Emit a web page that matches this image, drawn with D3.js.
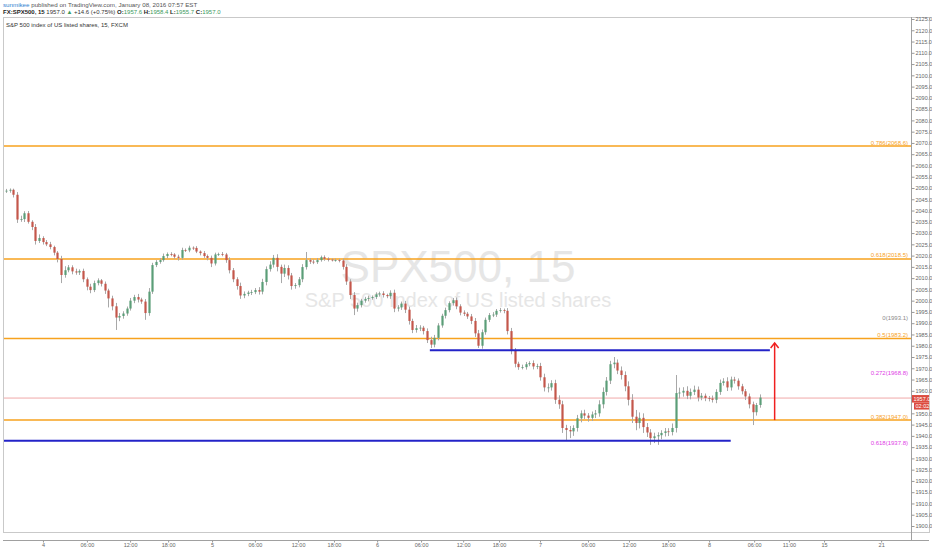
<!DOCTYPE html>
<html>
<head>
<meta charset="utf-8">
<script src="https://cdn.jsdelivr.net/npm/d3@7"></script>
<style>
  body { margin: 0; background: #fff; }
  svg { display: block; font-family: "Liberation Sans", Arial, sans-serif; }
</style>
</head>
<body>
<div id="chart"></div>
<script>
// 30-minute candles (close of each bar)
const firstOpen = 2048.5;
const closes = [
  2048.8, 2049.2, 2047.0, 2036.0, 2036.2, 2038.8, 2035.0, 2032.7, 2026.5, 2027.8,
  2026.0, 2025.0, 2023.8, 2021.3, 2018.5, 2011.4, 2013.5, 2014.8, 2013.0, 2012.5,
  2013.2, 2009.5, 2006.2, 2004.7, 2007.8, 2009.0, 2007.5, 2004.5, 2001.0, 1997.5,
  1992.5, 1993.2, 1994.3, 1996.5, 2000.0, 2001.6, 2000.5, 1999.6, 1994.5, 2004.0,
  2015.8, 2017.2, 2018.0, 2019.8, 2020.7, 2020.5, 2019.5, 2019.0, 2022.5, 2022.3,
  2023.5, 2023.4, 2021.8, 2021.1, 2019.8, 2019.0, 2016.5, 2020.5, 2020.7, 2020.5,
  2018.0, 2013.5, 2009.5, 2006.5, 2002.3, 2003.0, 2003.6, 2003.8, 2004.7, 2004.0,
  2008.3, 2014.0, 2016.0, 2019.0, 2015.0, 2012.0, 2014.5, 2011.2, 2006.5, 2006.9,
  2009.5, 2014.9, 2018.0, 2017.3, 2017.1, 2018.0, 2019.3, 2018.6, 2018.2, 2018.0,
  2018.0, 2017.8, 2015.0, 2008.5, 2002.5, 1996.5, 1998.0, 2000.0, 2000.8, 2001.2,
  2001.6, 2002.8, 2003.2, 2002.5, 2002.0, 2003.5, 1996.5, 1997.0, 1998.7, 1996.0,
  1991.0, 1987.0, 1987.8, 1988.0, 1986.5, 1982.5, 1980.5, 1983.5, 1989.0, 1993.3,
  1995.8, 1998.9, 2000.2, 1997.5, 1994.7, 1994.2, 1993.0, 1991.0, 1985.5, 1980.0,
  1986.0, 1991.5, 1993.6, 1993.8, 1995.5, 1995.8, 1995.5, 1986.5, 1978.0, 1972.0,
  1970.5, 1970.5, 1971.8, 1972.3, 1970.8, 1971.0, 1966.0, 1961.5, 1961.5, 1963.4,
  1956.0, 1954.0, 1943.5, 1942.6, 1942.0, 1943.5, 1947.8, 1950.0, 1949.0, 1948.0,
  1949.5, 1950.0, 1954.0, 1959.5, 1964.5, 1971.8, 1972.5, 1969.0, 1967.0, 1962.0,
  1956.0, 1948.5, 1945.7, 1948.0, 1943.9, 1941.5, 1939.0, 1939.8, 1940.3, 1941.3,
  1942.0, 1941.7, 1943.5, 1959.0, 1959.2, 1960.0, 1957.8, 1959.5, 1960.5, 1957.0,
  1957.8, 1956.8, 1956.6, 1956.0, 1959.5, 1963.5, 1964.2, 1961.5, 1965.0, 1964.5,
  1962.0, 1959.8, 1957.5, 1954.0, 1950.5, 1953.7, 1957.0
];
// how far each wick reaches above / below its body
const wickHi = [
  0.8, 0.6, 0.5, 1.2, 1.5, 0.9, 1.0, 0.7, 1.3, 1.6,
  0.8, 0.9, 1.1, 0.6, 0.7, 1.4, 1.8, 1.0, 0.9, 1.2,
  0.7, 1.0, 0.8, 1.3, 1.1, 0.9, 0.6, 1.0, 0.8, 1.2,
  1.5, 1.3, 1.0, 0.9, 1.2, 1.0, 1.4, 0.8, 1.1, 1.6,
  1.0, 0.8, 0.9, 1.1, 0.7, 0.8, 0.6, 0.9, 1.0, 0.7,
  0.9, 0.6, 0.8, 0.5, 0.9, 0.7, 1.0, 0.8, 0.6, 0.9,
  0.7, 1.2, 1.0, 0.9, 1.5, 1.1, 0.8, 1.0, 0.9, 1.3,
  1.4, 1.2, 1.5, 1.3, 1.6, 1.0, 1.5, 1.2, 1.1, 0.9,
  1.0, 1.3, 3.6, 0.8, 1.0, 0.9, 0.7, 0.8, 0.6, 0.5,
  0.7, 0.6, 0.9, 1.2, 1.0, 1.3, 1.1, 0.8, 0.9, 1.0,
  0.7, 0.9, 0.8, 1.0, 0.6, 1.1, 1.4, 1.0, 0.9, 1.2,
  1.3, 1.0, 1.4, 1.1, 0.8, 1.2, 1.5, 1.3, 1.0, 0.9,
  1.1, 0.8, 1.0, 1.2, 0.9, 1.0, 0.8, 1.1, 1.3, 1.5,
  1.2, 1.0, 0.9, 1.1, 0.8, 1.0, 0.7, 1.2, 1.4, 1.0,
  0.9, 1.1, 1.0, 0.8, 1.2, 1.0, 1.4, 1.6, 1.8, 1.3,
  1.5, 2.0, 1.6, 1.4, 1.8, 1.2, 1.5, 1.3, 1.6, 1.1,
  1.3, 1.5, 1.8, 2.0, 1.6, 1.5, 2.5, 1.4, 1.8, 1.6,
  2.2, 2.5, 3.0, 2.4, 2.0, 1.8, 1.5, 1.6, 1.3, 1.2,
  1.5, 1.4, 2.0, 8.0, 2.2, 1.6, 2.0, 1.5, 1.8, 1.4,
  1.2, 1.0, 0.9, 1.3, 1.2, 1.5, 1.4, 1.8, 1.3, 1.2,
  1.0, 1.1, 1.0, 1.3, 1.2, 0.9, 1.4
];
const wickLo = [
  0.7, 0.9, 1.2, 1.5, 1.0, 1.3, 0.8, 1.4, 1.6, 0.9,
  1.1, 0.8, 1.0, 1.2, 1.5, 3.6, 1.2, 0.9, 1.3, 1.0,
  1.1, 1.3, 1.6, 1.4, 0.9, 1.0, 1.2, 1.5, 4.0, 1.8,
  5.5, 1.6, 1.2, 1.0, 0.9, 1.1, 1.3, 1.0, 3.0, 1.2,
  1.0, 0.9, 0.8, 0.7, 1.0, 0.8, 0.9, 1.2, 0.8, 0.7,
  0.8, 0.9, 0.7, 1.0, 0.8, 1.1, 1.6, 0.9, 0.7, 0.8,
  1.2, 1.4, 1.3, 1.6, 1.5, 1.2, 1.0, 1.1, 0.9, 1.3,
  1.2, 1.5, 1.1, 1.3, 2.0, 4.2, 1.5, 1.8, 1.6, 1.2,
  1.0, 1.3, 1.1, 1.0, 0.9, 0.8, 0.7, 0.9, 0.8, 0.6,
  0.7, 0.8, 1.2, 1.5, 1.8, 2.9, 1.4, 1.0, 0.9, 1.1,
  0.8, 0.9, 1.0, 1.1, 0.9, 1.2, 1.6, 1.3, 1.1, 1.5,
  1.6, 1.4, 1.2, 1.3, 1.5, 1.3, 1.5, 1.2, 1.1, 1.0,
  1.2, 1.0, 1.1, 1.3, 1.2, 1.0, 1.1, 1.4, 1.6, 1.0,
  1.3, 1.1, 1.0, 0.9, 1.0, 0.8, 1.1, 1.5, 1.8, 1.6,
  1.2, 1.0, 1.1, 0.9, 1.3, 1.2, 1.5, 1.8, 2.2, 1.4,
  1.8, 2.0, 2.2, 4.4, 3.0, 2.0, 1.6, 1.8, 1.5, 1.7,
  1.4, 1.6, 1.5, 1.8, 1.6, 1.5, 1.8, 1.6, 2.0, 2.2,
  2.5, 2.8, 3.2, 2.4, 2.6, 2.0, 3.0, 2.2, 3.8, 1.8,
  1.6, 1.8, 1.5, 2.0, 2.4, 1.8, 1.5, 1.6, 1.4, 1.7,
  1.2, 1.4, 1.3, 1.2, 1.5, 1.3, 1.2, 1.6, 1.4, 1.3,
  1.5, 1.4, 1.6, 1.8, 5.7, 1.5, 1.2
];

// time axis: label text and the bar position it sits on
const timeLabels = ["4", "06:00", "12:00", "18:00", "5", "06:00", "12:00", "18:00", "6", "06:00", "12:00",
  "18:00", "7", "06:00", "12:00", "18:00", "8", "06:00", "11:00", "15", "21"];
const timeBars = [10.1, 22.1, 33.9, 44.3, 56.3, 68, 79.8, 89.6, 101.4, 113.4, 124.9,
  134.7, 145.9, 159, 170.2, 180.9, 192.1, 204.4, 213.9, 223.5, 239.1];

// fibonacci levels drawn on the chart
const fibLabels = ["0.786(2068.6)", "0.618(2018.5)", "0(1993.1)", "0.5(1983.2)", "0.272(1968.8)", "0.382(1947.0)", "0.618(1937.8)"];
const fibValues = [2068.6, 2018.5, 1993.1, 1983.2, 1968.8, 1947.0, 1937.8];
const fibKinds = ["line", "line", "base", "line", "ext", "line", "ext"];

// blue horizontal trend lines: price, first bar, last bar
const trendValues = [1937.8, 1978.0];
const trendFrom = [-1.5, 115.8];
const trendTo = [198, 208.7];

// red target arrow
const arrowBar = 210;
const arrowFrom = 1947.0;
const arrowTo = 1981.2;

const lastPrice = 1957.0;
const countdown = "02:02";

/** Render the whole chart. */
function renderChart() {
  const WIDTH = 932;
  const HEIGHT = 550;
  const PANE = { left: 3, right: 911, top: 17, bottom: 540 };
  const UP = "#5b9e78", DOWN = "#c4574b", WICK = "#a8a8a8";
  const ORANGE = "#f7a21e", MAGENTA = "#e040e6", BLUE = "#2323c8";

  const svg = d3.select("#chart").append("svg")
    .attr("width", WIDTH)
    .attr("height", HEIGHT);

  svg.append("rect").attr("width", WIDTH).attr("height", HEIGHT).attr("fill", "#fff");

  const x = d3.scaleLinear().domain([0, closes.length - 1]).range([6, 760]);
  const y = d3.scaleLinear().domain([1900, 2125]).range([526, 19]);

  // Header
  const h1 = svg.append("text").attr("x", 3).attr("y", 7).style("font-size", "6.2px");
  h1.append("tspan").attr("fill", "#2f7fcf").text("sunmikee");
  h1.append("tspan").attr("fill", "#555").text(" published on TradingView.com, January 08, 2016 07:57 EST");

  const GREEN = "#3c9a5c";
  const h2 = svg.append("text").attr("x", 3).attr("y", 14).style("font-size", "6px").attr("fill", "#333");
  [["FX:SPX500, 15", "#222", true], [" 1957.0 ", "#333", false], ["\u25B2", GREEN, false],
   [" +14.6 (+0.75%) ", "#333", false], ["O:", "#222", true], ["1957.6", GREEN, false],
   [" H:", "#222", true], ["1958.4", GREEN, false], [" L:", "#222", true], ["1955.7", GREEN, false],
   [" C:", "#222", true], ["1957.0", GREEN, false]]
    .forEach(([t, c, b]) => h2.append("tspan").attr("fill", c).attr("font-weight", b ? "bold" : null).text(t));

  // Pane frame
  svg.append("rect")
    .attr("x", PANE.left + 0.5).attr("y", PANE.top + 0.5)
    .attr("width", 926).attr("height", 532 - PANE.top)
    .attr("fill", "none").attr("stroke", "#c9c9c9");
  svg.append("line")
    .attr("x1", PANE.right + 0.5).attr("x2", PANE.right + 0.5)
    .attr("y1", PANE.top).attr("y2", PANE.bottom)
    .attr("stroke", "#a0a0a0");
  svg.append("line")
    .attr("x1", PANE.left).attr("x2", PANE.right + 18)
    .attr("y1", PANE.bottom + 0.5).attr("y2", PANE.bottom + 0.5)
    .attr("stroke", "#a0a0a0");

  svg.append("defs").append("clipPath").attr("id", "pane-clip")
    .append("rect")
    .attr("x", PANE.left + 1).attr("y", PANE.top + 1)
    .attr("width", PANE.right - PANE.left - 1).attr("height", PANE.bottom - PANE.top - 1);

  const pane = svg.append("g").attr("clip-path", "url(#pane-clip)");

  // Symbol description
  svg.append("text").attr("x", 6).attr("y", 26.5)
    .style("font-size", "6px").attr("fill", "#333")
    .text("S&P 500 index of US listed shares, 15, FXCM");

  // Watermark
  pane.append("text")
    .attr("x", 458).attr("y", 282)
    .attr("text-anchor", "middle")
    .style("font-size", "44px")
    .attr("fill", "#e6e6e6")
    .text("SPX500, 15");
  pane.append("text")
    .attr("x", 458).attr("y", 307)
    .attr("text-anchor", "middle")
    .style("font-size", "20px")
    .attr("fill", "#e6e6e6")
    .text("S&P 500 Index of US listed shares");

  // Current price line
  pane.append("line")
    .attr("x1", PANE.left).attr("x2", PANE.right)
    .attr("y1", y(lastPrice) + 0.5).attr("y2", y(lastPrice) + 0.5)
    .attr("stroke", "#f0a8a8").attr("stroke-width", 1);

  // Fib levels
  fibValues.forEach((v, i) => {
    const kind = fibKinds[i];
    const color = kind === "line" ? ORANGE : kind === "ext" ? MAGENTA : "#8a8a8a";
    if (kind === "line") {
      pane.append("line")
        .attr("x1", PANE.left).attr("x2", PANE.right)
        .attr("y1", y(v)).attr("y2", y(v))
        .attr("stroke", ORANGE).attr("stroke-width", 1.5);
    }
    pane.append("text")
      .attr("x", PANE.right - 3)
      .attr("y", kind === "line" ? y(v) - 1.5 : y(v) + 4)
      .attr("text-anchor", "end")
      .style("font-size", "6px")
      .attr("fill", color)
      .text(fibLabels[i]);
  });

  // Candles
  const bars = closes.map((c, i) => {
    const o = i === 0 ? firstOpen : closes[i - 1];
    return { i, o, c, h: Math.max(o, c) + wickHi[i], l: Math.min(o, c) - wickLo[i] };
  });
  const bodyW = 2.2;

  pane.selectAll(".wick").data(bars).enter().append("line")
    .attr("class", "wick")
    .attr("x1", d => Math.round(x(d.i)) + 0.5).attr("x2", d => Math.round(x(d.i)) + 0.5)
    .attr("y1", d => y(d.h)).attr("y2", d => y(d.l))
    .attr("stroke", WICK).attr("stroke-width", 1);

  pane.selectAll(".body").data(bars).enter().append("rect")
    .attr("class", "body")
    .attr("x", d => Math.round(x(d.i)) + 0.5 - bodyW / 2)
    .attr("width", bodyW)
    .attr("y", d => y(Math.max(d.o, d.c)))
    .attr("height", d => Math.max(0.8, Math.abs(y(d.o) - y(d.c))))
    .attr("fill", d => d.c >= d.o ? UP : DOWN);

  // Blue trend lines
  trendValues.forEach((v, i) => {
    pane.append("line")
      .attr("x1", x(trendFrom[i])).attr("x2", x(trendTo[i]))
      .attr("y1", y(v)).attr("y2", y(v))
      .attr("stroke", BLUE).attr("stroke-width", 2);
  });

  // Red arrow
  const ax = x(arrowBar), ay = y(arrowTo);
  pane.append("line")
    .attr("x1", ax).attr("x2", ax)
    .attr("y1", y(arrowFrom)).attr("y2", ay)
    .attr("stroke", "#f02020").attr("stroke-width", 1.5);
  pane.append("path")
    .attr("d", `M${ax - 4},${ay + 5}L${ax},${ay}L${ax + 4},${ay + 5}`)
    .attr("fill", "none").attr("stroke", "#f02020").attr("stroke-width", 1.5);

  // Price axis (labels hidden under the last price tag are skipped)
  const py = y(lastPrice);
  const yAxis = svg.append("g")
    .attr("transform", `translate(${PANE.right + 0.5},0)`)
    .call(d3.axisRight(y)
      .tickValues(d3.range(1900, 2125.1, 5).filter(v => Math.abs(y(v) - py) > 6))
      .tickFormat(d3.format(".1f"))
      .tickSize(3).tickPadding(1));
  yAxis.select(".domain").remove();
  yAxis.selectAll("line").attr("stroke", "#999");
  yAxis.selectAll("text").style("font-size", "5.5px").attr("fill", "#666")
    .style("font-family", "'Liberation Sans', Arial, sans-serif");

  // Last price tag
  svg.append("rect").attr("x", PANE.right + 1).attr("y", py - 2.5)
    .attr("width", 17).attr("height", 7.5).attr("fill", "#dc4b3e");
  svg.append("text").attr("x", PANE.right + 2.5).attr("y", py + 3.2)
    .style("font-size", "5.5px").attr("fill", "#fff").text(lastPrice.toFixed(1));
  svg.append("rect").attr("x", PANE.right + 3).attr("y", py + 5)
    .attr("width", 15).attr("height", 7).attr("fill", "#dc4b3e");
  svg.append("text").attr("x", PANE.right + 4.5).attr("y", py + 10.5)
    .style("font-size", "5.5px").attr("fill", "#fff").text(countdown);

  // Time axis
  const xAxis = svg.append("g")
    .attr("transform", `translate(0,${PANE.bottom + 0.5})`)
    .call(d3.axisBottom(x)
      .tickValues(timeBars)
      .tickFormat((d, i) => timeLabels[i])
      .tickSize(2).tickPadding(1));
  xAxis.select(".domain").remove();
  xAxis.selectAll("line").attr("stroke", "#999");
  xAxis.selectAll("text").style("font-size", "5.5px").attr("fill", "#666")
    .style("font-family", "'Liberation Sans', Arial, sans-serif");
}

renderChart();
</script>
</body>
</html>
